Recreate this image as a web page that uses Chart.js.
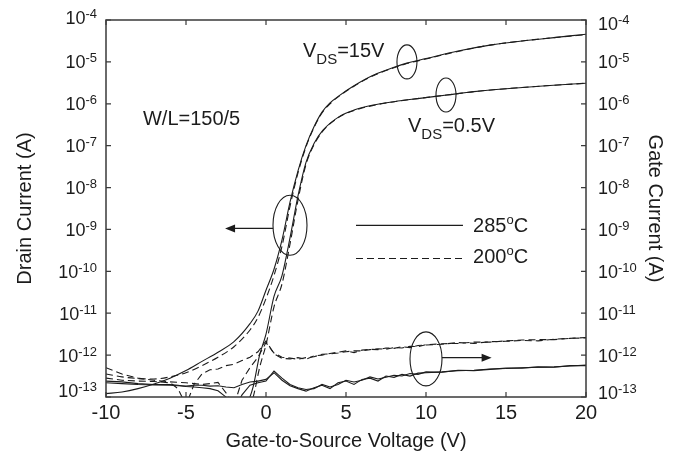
<!DOCTYPE html>
<html>
<head>
<meta charset="utf-8">
<script src="https://cdn.jsdelivr.net/npm/chart.js@4.4.1/dist/chart.umd.min.js"></script>
<style>
  html, body { margin: 0; padding: 0; background: #fff; }
  #wrap { width: 681px; height: 455px; }
</style>
</head>
<body>
<div id="wrap"><canvas id="chart" width="681" height="455"></canvas></div>
<script>
// Transfer curves: drain current (left axis) and gate current (right axis)
// Currents are stored as log10(I / A).

const xTitle = 'Gate-to-Source Voltage (V)';
const yLeftTitle = 'Drain Current (A)';
const yRightTitle = 'Gate Current (A)';
const yExponents = [-4, -5, -6, -7, -8, -9, -10, -11, -12, -13];

// Drain current, VDS = 15 V
const vgDrain15 = [-10, -9, -8, -7, -6, -5, -4, -3, -2, -1, -0.5, 0, 0.5, 1, 1.5, 2, 2.5, 3, 3.5, 4, 4.6, 5.5, 6.7, 8, 8.8, 10, 12, 14, 16, 18, 20];
const idDrain15Hot = [-12.92, -12.88, -12.80, -12.69, -12.55, -12.37, -12.15, -11.93, -11.68, -11.25, -10.95, -10.45, -9.95, -9.25, -8.35, -7.6, -7.0, -6.55, -6.2, -5.98, -5.8, -5.57, -5.32, -5.13, -5.03, -4.92, -4.74, -4.6, -4.5, -4.42, -4.34];
const idDrain15Cool = [-12.45, -12.52, -12.56, -12.57, -12.52, -12.42, -12.25, -12.05, -11.8, -11.4, -11.1, -10.65, -10.1, -9.4, -8.45, -7.65, -7.03, -6.57, -6.22, -6.0, -5.81, -5.58, -5.33, -5.14, -5.04, -4.93, -4.75, -4.6, -4.5, -4.42, -4.35];

// Drain current, VDS = 0.5 V
const vgDrain05 = [-1.3, -0.8, -0.4, 0, 0.5, 1, 1.5, 2, 2.5, 3, 3.56, 4.6, 5.5, 6.7, 8, 9.6, 11.3, 13, 15, 17.5, 20];
const idDrain05Hot = [-13.3, -12.75, -12.0, -11.5, -10.6, -10.1, -9.2, -8.2, -7.4, -6.95, -6.63, -6.3, -6.15, -6.03, -5.95, -5.87, -5.79, -5.71, -5.64, -5.57, -5.51];
const idDrain05Cool = [-13.5, -13.0, -12.3, -11.75, -10.85, -10.3, -9.35, -8.3, -7.45, -6.98, -6.65, -6.31, -6.16, -6.04, -5.95, -5.87, -5.79, -5.71, -5.64, -5.57, -5.51];

// Gate current
const vgGate = [-10, -9, -8, -7, -6, -5.5, -5, -4.5, -4, -3.5, -3, -2.5, -2, -1.5, -1, -0.5, 0, 0.5, 1, 1.5, 2, 2.5, 3, 3.5, 4, 4.5, 5, 5.5, 6, 6.5, 7, 7.5, 8, 8.5, 9, 9.5, 10, 11, 12, 13, 14, 15, 16, 17, 18, 19, 20];
const igHotA = [-12.66, -12.68, -12.70, -12.71, -12.72, -12.73, -12.74, -12.72, -12.72, -12.74, -12.73, -12.76, -12.78, -12.70, -12.64, -12.62, -12.58, -12.42, -12.60, -12.73, -12.80, -12.86, -12.78, -12.72, -12.80, -12.66, -12.62, -12.70, -12.58, -12.55, -12.62, -12.50, -12.53, -12.46, -12.50, -12.43, -12.42, -12.40, -12.37, -12.36, -12.33, -12.32, -12.30, -12.29, -12.28, -12.26, -12.24];
const igHotB = [-12.62, -12.64, -12.68, -12.70, -12.70, -12.72, -12.75, -12.76, -12.78, -12.80, -12.85, -13.00, -13.30, -12.95, -12.72, -12.66, -12.62, -12.38, -12.55, -12.70, -12.78, -12.82, -12.80, -12.70, -12.76, -12.70, -12.60, -12.64, -12.60, -12.52, -12.57, -12.53, -12.48, -12.50, -12.44, -12.46, -12.40, -12.41, -12.36, -12.37, -12.34, -12.31, -12.31, -12.28, -12.29, -12.25, -12.25];
const igCoolA = [-12.55, -12.60, -12.62, -12.63, -12.66, -12.80, -13.20, -12.70, -12.45, -12.35, -12.33, -12.25, -12.22, -12.13, -12.05, -11.92, -11.66, -11.97, -12.08, -12.09, -12.06, -12.10, -12.02, -12.00, -11.96, -11.93, -11.90, -11.94, -11.88, -11.86, -11.87, -11.83, -11.84, -11.80, -11.82, -11.77, -11.76, -11.74, -11.70, -11.72, -11.68, -11.67, -11.65, -11.66, -11.62, -11.60, -11.58];
const igCoolB = [-12.30, -12.45, -12.55, -12.60, -12.64, -12.65, -12.66, -12.68, -12.70, -12.68, -12.65, -12.90, -13.20, -12.60, -12.30, -12.05, -11.70, -11.95, -12.05, -12.07, -12.10, -12.06, -12.04, -11.98, -11.97, -11.95, -11.92, -11.90, -11.90, -11.87, -11.85, -11.86, -11.82, -11.83, -11.79, -11.80, -11.75, -11.73, -11.72, -11.69, -11.69, -11.66, -11.64, -11.63, -11.63, -11.60, -11.59];

const FONT = '"Liberation Sans", Arial, Helvetica, sans-serif';
const INK = '#1c1c1c';
const FRAME = '#3a3a3a';
const TICK = 5;

function points(xs, logs) {
    return xs.map((v, i) => ({ x: v, y: 10 ** logs[i] }));
}

function curve(label, xs, logs, axis, dashed, smooth) {
    return {
        label: label,
        data: points(xs, logs),
        yAxisID: axis,
        borderColor: INK,
        borderWidth: 1.1,
        borderDash: dashed ? [7, 4] : [],
        pointRadius: 0,
        fill: false,
        cubicInterpolationMode: smooth ? 'monotone' : 'default',
        tension: 0
    };
}

// annotation placement, in data coordinates (V, A)
const notes = {
    wl: { x: -7.69, y: 3.08e-7 },
    vds15: { x: 2.31, y: 1.30e-5 },
    vds05: { x: 8.875, y: 2.09e-7 },
    legendHot: { x0: 5.625, x1: 12.31, y: 1.25e-9, tx: 12.94, ty: 8.47e-10 },
    legendCool: { x0: 5.625, x1: 12.31, y: 2.02e-10, tx: 12.94, ty: 1.54e-10 },
    ring15: { x: 8.81, y: 1.0e-5, rx: 10, ry: 17 },
    ring05: { x: 11.25, y: 1.62e-6, rx: 10, ry: 17 },
    ringDrain: { x: 1.5, y: 1.26e-9, rx: 17, ry: 30, arrowTo: -2.56, arrowY: 1.06e-9 },
    ringGate: { x: 10.0, y: 8.13e-13, rx: 16, ry: 27, arrowTo: 14.1, arrowY: 8.7e-13 }
};

// draw text made of runs with their own size and vertical offset
function drawRuns(ctx, runs, x, y, align) {
    let total = 0;
    runs.forEach(r => {
        ctx.font = r.size + 'px ' + FONT;
        r.w = ctx.measureText(r.t).width;
        total += r.w;
    });
    let cx = align === 'right' ? x - total : x;
    ctx.textAlign = 'left';
    ctx.textBaseline = 'alphabetic';
    runs.forEach(r => {
        ctx.font = r.size + 'px ' + FONT;
        ctx.fillText(r.t, cx, y + (r.dy || 0));
        cx += r.w;
    });
}

function drawArrow(ctx, x0, y, x1) {
    const dir = x1 < x0 ? -1 : 1;
    ctx.beginPath();
    ctx.moveTo(x0, y);
    ctx.lineTo(x1 - dir * 8, y);
    ctx.stroke();
    ctx.beginPath();
    ctx.moveTo(x1, y);
    ctx.lineTo(x1 - dir * 10, y - 4);
    ctx.lineTo(x1 - dir * 10, y + 4);
    ctx.closePath();
    ctx.fill();
}

const paperPlugin = {
    id: 'paperPlugin',
    afterDraw(chart) {
        const { ctx, chartArea: a } = chart;
        const xs = chart.scales.x;
        const yl = chart.scales.y;
        const yr = chart.scales.y1;
        ctx.save();

        // frame
        ctx.strokeStyle = FRAME;
        ctx.lineWidth = 1.5;
        ctx.strokeRect(a.left, a.top, a.right - a.left, a.bottom - a.top);

        // inward tick marks
        ctx.lineWidth = 1.2;
        ctx.beginPath();
        xs.ticks.forEach(t => {
            const px = xs.getPixelForValue(t.value);
            ctx.moveTo(px, a.bottom); ctx.lineTo(px, a.bottom - TICK);
            ctx.moveTo(px, a.top); ctx.lineTo(px, a.top + TICK);
        });
        yExponents.forEach(e => {
            const pl = yl.getPixelForValue(10 ** e);
            const pr = yr.getPixelForValue(10 ** e);
            ctx.moveTo(a.left, pl); ctx.lineTo(a.left + TICK, pl);
            ctx.moveTo(a.right, pr); ctx.lineTo(a.right - TICK, pr);
        });
        ctx.stroke();

        // decade labels with superscript exponents
        ctx.fillStyle = INK;
        yExponents.forEach((e, i) => {
            const last = i === yExponents.length - 1;
            const pl = yl.getPixelForValue(10 ** e) + (i === 0 ? -3 : last ? -7 : 0);
            const pr = yr.getPixelForValue(10 ** e) + (i === 0 ? 3 : last ? -5 : 0);
            const runs = () => [{ t: '10', size: 18 }, { t: String(e), size: 13, dy: -6 }];
            drawRuns(ctx, runs(), a.left - 9, pl + 6.5, 'right');
            drawRuns(ctx, runs(), a.right + 12, pr + 6.5, 'left');
        });

        // text notes
        const px = v => xs.getPixelForValue(v);
        const py = v => yl.getPixelForValue(v);
        drawRuns(ctx, [{ t: 'W/L=150/5', size: 20 }], px(notes.wl.x), py(notes.wl.y), 'left');
        drawRuns(ctx, [{ t: 'V', size: 20 }, { t: 'DS', size: 15, dy: 7 }, { t: '=15V', size: 20 }],
            px(notes.vds15.x), py(notes.vds15.y), 'left');
        drawRuns(ctx, [{ t: 'V', size: 20 }, { t: 'DS', size: 15, dy: 7 }, { t: '=0.5V', size: 20 }],
            px(notes.vds05.x), py(notes.vds05.y), 'left');

        // legend
        ctx.strokeStyle = INK;
        ctx.lineWidth = 1.1;
        [[notes.legendHot, [], '285'], [notes.legendCool, [7, 4], '200']].forEach(([n, dash, t]) => {
            ctx.setLineDash(dash);
            ctx.beginPath();
            ctx.moveTo(px(n.x0), py(n.y));
            ctx.lineTo(px(n.x1), py(n.y));
            ctx.stroke();
            ctx.setLineDash([]);
            drawRuns(ctx, [{ t: t, size: 20 }, { t: 'o', size: 13, dy: -8 }, { t: 'C', size: 20 }],
                px(n.tx), py(n.ty), 'left');
        });

        // rings and arrows
        ctx.lineWidth = 1.1;
        ctx.strokeStyle = INK;
        [notes.ring15, notes.ring05, notes.ringDrain, notes.ringGate].forEach(r => {
            ctx.beginPath();
            ctx.ellipse(px(r.x), py(r.y), r.rx, r.ry, 0, 0, Math.PI * 2);
            ctx.stroke();
        });
        const rd = notes.ringDrain;
        drawArrow(ctx, px(rd.x) - rd.rx, py(rd.arrowY), px(rd.arrowTo));
        const rg = notes.ringGate;
        drawArrow(ctx, px(rg.x) + rg.rx, yr.getPixelForValue(rg.arrowY), px(rg.arrowTo));

        ctx.restore();
    }
};

Chart.defaults.font.family = FONT;
Chart.defaults.color = INK;

new Chart(document.getElementById('chart').getContext('2d'), {
    type: 'line',
    data: {
        datasets: [
            curve('Ig 285C a', vgGate, igHotA, 'y1', false, false),
            curve('Ig 285C b', vgGate, igHotB, 'y1', false, false),
            curve('Ig 200C a', vgGate, igCoolA, 'y1', true, false),
            curve('Ig 200C b', vgGate, igCoolB, 'y1', true, false),
            curve('Id 15V 285C', vgDrain15, idDrain15Hot, 'y', false, true),
            curve('Id 15V 200C', vgDrain15, idDrain15Cool, 'y', true, true),
            curve('Id 0.5V 285C', vgDrain05, idDrain05Hot, 'y', false, true),
            curve('Id 0.5V 200C', vgDrain05, idDrain05Cool, 'y', true, true)
        ]
    },
    options: {
        responsive: false,
        devicePixelRatio: 1,
        animation: false,
        layout: { padding: { top: 20, left: 0, right: 0, bottom: 0 } },
        plugins: {
            legend: { display: false },
            tooltip: { enabled: false }
        },
        scales: {
            x: {
                type: 'linear',
                position: 'bottom',
                min: -10,
                max: 20,
                ticks: { stepSize: 5, font: { size: 20 }, color: INK, padding: 4, maxRotation: 0 },
                grid: { display: false, drawTicks: false },
                border: { display: false },
                title: { display: true, text: xTitle, font: { size: 20 }, color: INK, padding: { top: 0, bottom: 2 } },
                afterFit: s => { s.height = 58; }
            },
            y: {
                type: 'logarithmic',
                position: 'left',
                min: 1e-13,
                max: 1e-4,
                ticks: { display: false },
                grid: { display: false, drawTicks: false },
                border: { display: false },
                title: { display: true, text: yLeftTitle, font: { size: 20 }, color: INK, padding: { top: 13, bottom: 0 } },
                afterFit: s => { s.width = 106; }
            },
            y1: {
                type: 'logarithmic',
                position: 'right',
                min: 1e-13,
                max: 1e-4,
                ticks: { display: false },
                grid: { display: false, drawTicks: false },
                border: { display: false },
                title: { display: true, text: yRightTitle, font: { size: 20 }, color: INK, padding: { top: 14, bottom: 0 } },
                afterFit: s => { s.width = 95; }
            }
        }
    },
    plugins: [paperPlugin]
});
</script>
</body>
</html>
